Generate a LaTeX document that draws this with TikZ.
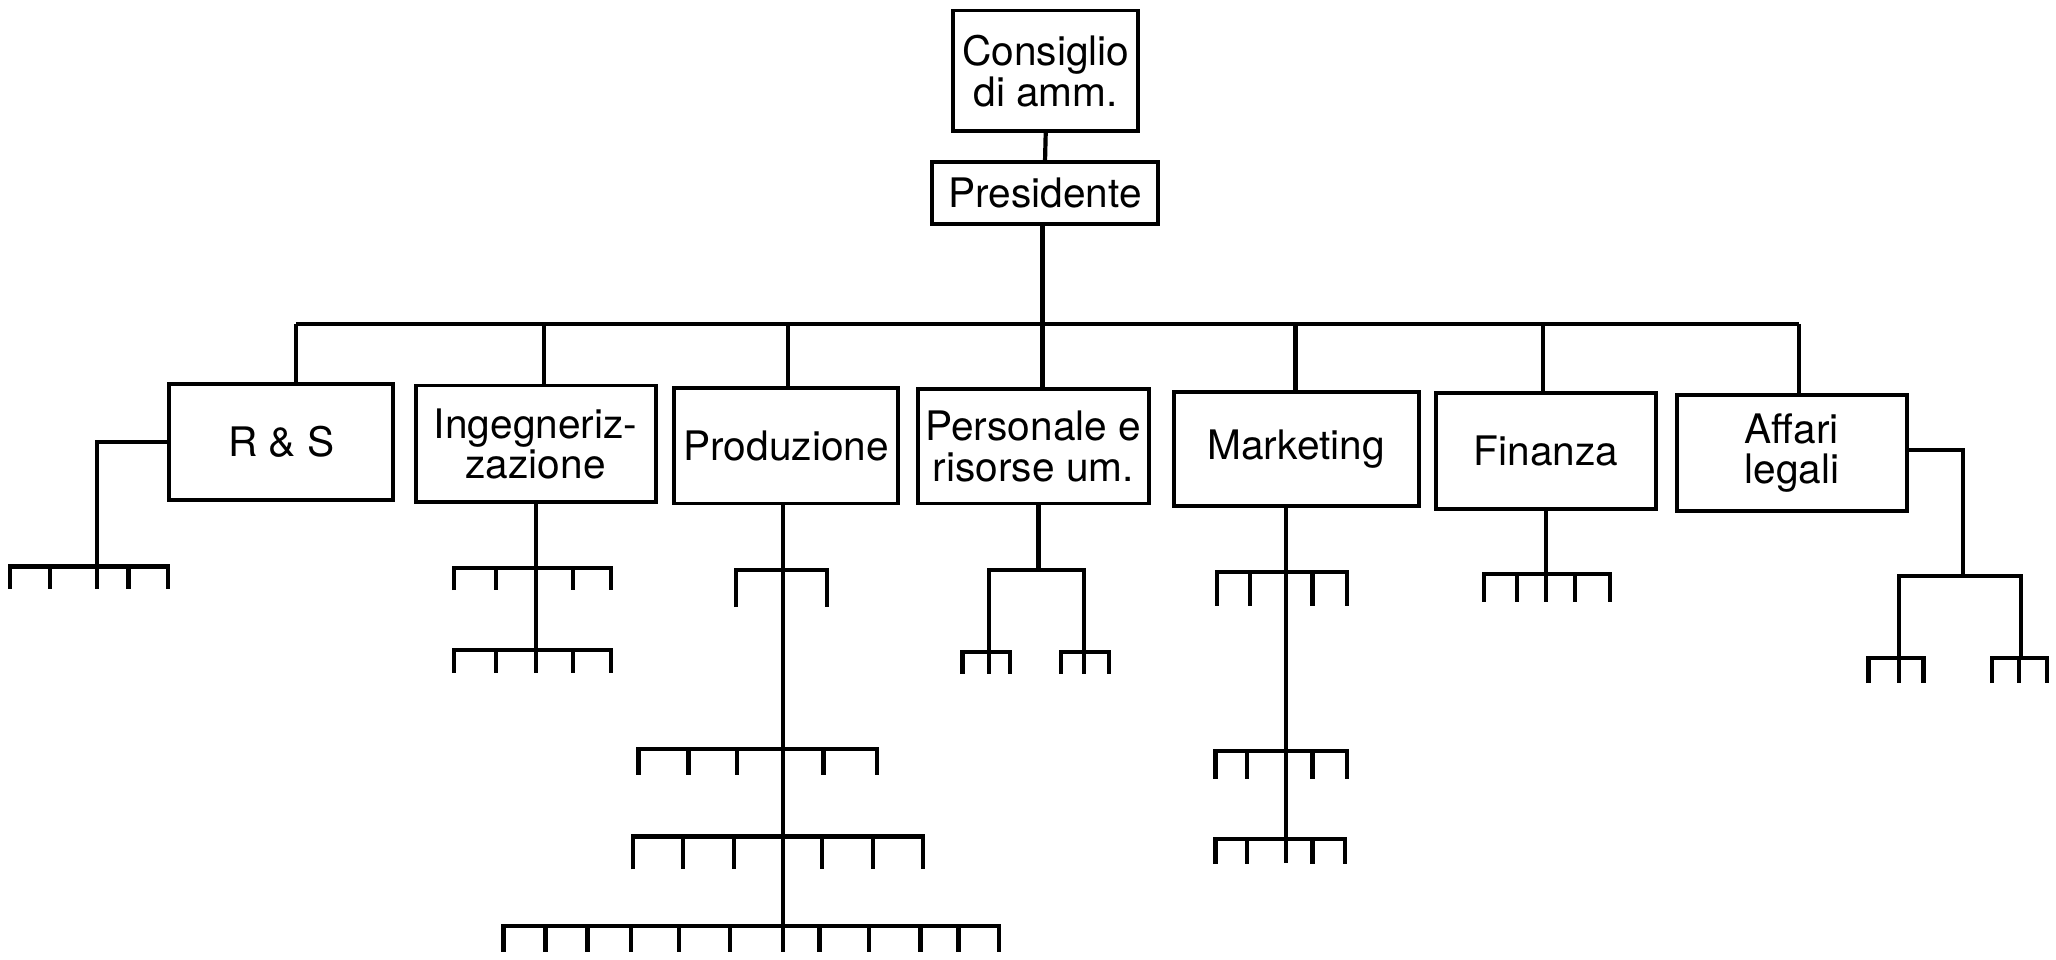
\documentclass[tikz,border=0pt]{standalone}
\usepackage{fontspec}
\setmainfont{TeX Gyre Heros}
\begin{document}
\begin{tikzpicture}[x=1pt,y=-1pt,line width=3.2pt,
  box/.style={draw,line width=3pt,inner sep=0pt,align=center,
    font=\fontsize{31}{31}\selectfont}]
\useasboundingbox (0,0) rectangle (1568,732);
\newcommand\myrake[5]{%
  \draw (#2,#1+#4) -- (#2,#1) -- (#3,#1) -- (#3,#1+#4);
  \foreach \t in {#5} {\draw (\t,#1) -- (\t,#1+#4);}}
% top
\node[box,minimum width=141pt,minimum height=92pt] (cons) at (797.5,54) {Consiglio\\di amm.};
\node[box,minimum width=172pt,minimum height=47pt] (pres) at (797,147) {Presidente};
% departments
\node[box,minimum width=171pt,minimum height=88pt] (rs)   at (214.5,337) {R \& S};
\node[box,minimum width=183pt,minimum height=89pt] (ing)  at (408.5,338.5) {Ingegneriz-\\zazione};
\node[box,minimum width=171pt,minimum height=88pt] (prod) at (599.5,340) {Produzione};
\node[box,minimum width=176pt,minimum height=87pt] (pers) at (788,340.5) {Personale e\\risorse um.};
\node[box,minimum width=187pt,minimum height=87pt] (mkt)  at (988.5,342.5) {Marketing};
\node[box,minimum width=168pt,minimum height=88pt] (fin)  at (1179,344) {Finanza};
\node[box,minimum width=175pt,minimum height=89pt] (aff)  at (1366.5,345.5) {Affari\\legali};
% main connectors
\draw (cons.south) -- (pres.north);
\coordinate (d1) at (226,247);
\coordinate (d2) at (415,247);
\coordinate (d3) at (601,247);
\coordinate (d4) at (795,247);
\coordinate (d5) at (988,247);
\coordinate (d6) at (1177,247);
\coordinate (d7) at (1372,247);
\draw (pres.south -| d4) -- (d4);
\draw (d1) -- (d7);
\draw (d1) -- (d1 |- rs.north);
\draw (d2) -- (d2 |- ing.north);
\draw (d3) -- (d3 |- prod.north);
\draw (d4) -- (d4 |- pers.north);
\draw (d5) -- (d5 |- mkt.north);
\draw (d6) -- (d6 |- fin.north);
\draw (d7) -- (d7 |- aff.north);
% R & S
\coordinate (rsj) at (74,432);
\draw (rs.west) -| (rsj);
\myrake{432}{7.5}{128}{17}{38,74,98}
% Ingegnerizzazione
\coordinate (ingb) at (409,513);
\draw (ing.south -| ingb) -- (ingb);
\myrake{433}{346}{466}{17}{378,437}
\myrake{496}{346}{466}{17}{378,437}
% Produzione
\coordinate (prodb) at (597,726);
\draw (prod.south -| prodb) -- (prodb);
\myrake{435}{561}{631}{28}{}
\myrake{571}{487}{669}{20}{525,562,628}
\myrake{638}{483}{704}{25}{521,560,627,666}
\myrake{706}{384}{762}{20}{416,448,481,518,557,625,663,702,731}
% Personale
\coordinate (persj) at (792,435);
\draw (pers.south -| persj) -- (persj);
\myrake{435}{754}{827}{62}{}
\myrake{497}{734}{770}{17}{754}
\myrake{497}{809}{846}{17}{827}
% Marketing
\coordinate (mktb) at (981,658);
\draw (mkt.south -| mktb) -- (mktb);
\myrake{436}{928}{1027}{26}{953,1001}
\myrake{573}{927}{1027}{21}{951,1001}
\myrake{640}{927}{1026}{19}{951,1001}
% Finanza
\coordinate (finj) at (1179,438);
\draw (fin.south -| finj) -- (finj);
\myrake{438}{1132}{1228}{21}{1157,1179,1201}
% Affari legali
\coordinate (affj) at (1497,439);
\draw (aff.east |- 0,343) -| (affj);
\myrake{439}{1448}{1541}{63}{}
\myrake{502}{1425}{1467}{19}{1448}
\myrake{502}{1519}{1561}{19}{1540}
\end{tikzpicture}
\end{document}
